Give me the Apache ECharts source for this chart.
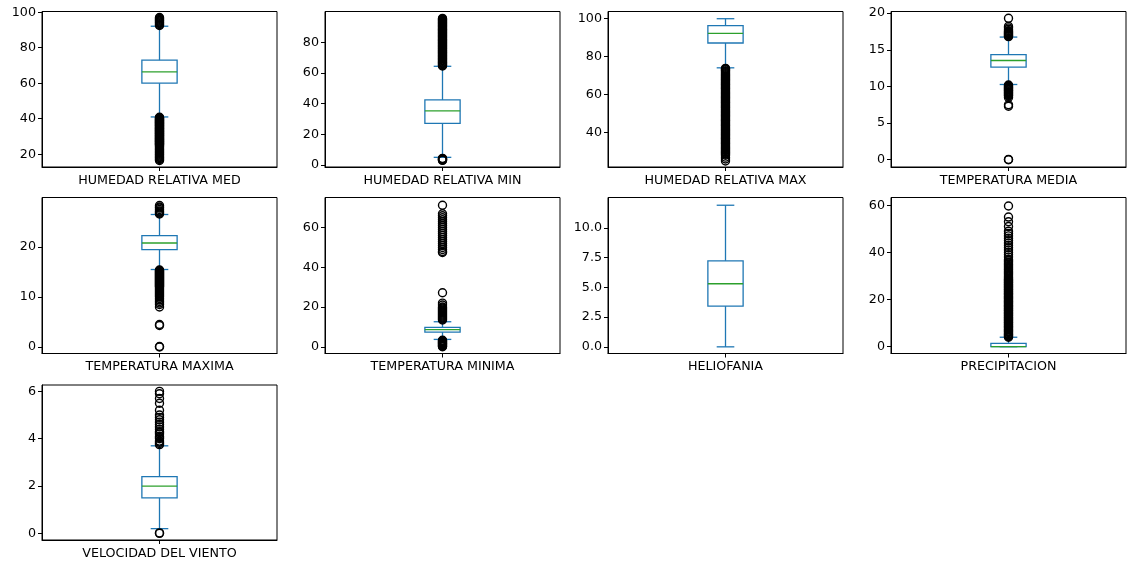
<!DOCTYPE html>
<html>
<head>
<meta charset="utf-8">
<script src="https://cdn.jsdelivr.net/npm/echarts@6/dist/echarts.min.js"></script>
<style>
html,body{margin:0;padding:0;background:#fff;}
#chart{width:1127px;height:565px;}
</style>
</head>
<body>
<div id="chart"></div>
<script>
// ---------- DATA ----------
const names = ["HUMEDAD RELATIVA MED", "HUMEDAD RELATIVA MIN", "HUMEDAD RELATIVA MAX", "TEMPERATURA MEDIA",
  "TEMPERATURA MAXIMA", "TEMPERATURA MINIMA", "HELIOFANIA", "PRECIPITACION", "VELOCIDAD DEL VIENTO"];
const lowWhisker  = [41.0, 5.0, 74.1, 10.27, 15.5, 3.7, 0.0, 0.0, 0.2];
const q1          = [60.0, 27.1, 87.2, 12.63, 19.47, 7.4, 3.42, 0.0, 1.5];
const median      = [66.4, 35.2, 92.3, 13.54, 20.8, 8.6, 5.3, 0.0, 2.0];
const q3          = [73.0, 42.4, 96.3, 14.35, 22.27, 9.8, 7.23, 1.4, 2.4];
const highWhisker = [92.1, 64.3, 100.0, 16.74, 26.5, 12.6, 11.9, 4.0, 3.7];

const outHRMed = [92.5, 93, 93.5, 94, 94.5, 95, 95.5, 96, 96.5, 97,
  40.8, 40.5, 40.2, 40, 39.7, 39.5, 39.2, 39, 38.7, 38.5, 38.2, 38, 37.7, 37.5, 37.2, 37, 36.7, 36.5,
  36.2, 36, 35.7, 35.5, 35.2, 35, 34.7, 34.5, 34.2, 34, 33.7, 33.5, 33.2, 33, 32.7, 32.5, 32.2, 32,
  31.7, 31.5, 31.2, 31, 30.7, 30.5, 30.2, 30, 29.7, 29.5, 29.2, 29, 28.7, 28.5, 28.2, 28, 27.7, 27.5,
  27.2, 27, 26.7, 26.5, 26.2, 26, 25.7, 25.5, 25.2, 25, 24.5, 24, 23.5, 23, 22.5, 22, 21.5, 21,
  20.5, 20, 19.5, 19, 18.5, 18, 17.5, 17, 16.5];
const outHRMin = [64.5, 65, 65.5, 66, 66.5, 67, 67.5, 68, 68.5, 69, 69.5, 70, 70.5, 71, 71.5, 72, 72.5,
  73, 73.5, 74, 74.5, 75, 75.5, 76, 76.5, 77, 77.5, 78, 78.5, 79, 79.5, 80, 80.5, 81, 81.5, 82, 82.5,
  83, 83.5, 84, 84.5, 85, 85.5, 86, 86.5, 87, 87.5, 88, 88.5, 89, 89.5, 90, 90.5, 91, 91.5, 92, 92.5,
  93, 93.5, 94, 94.5, 95, 95.5, 3, 3.3, 3.5, 3.8, 4, 4.3];
const outHRMax = [73.8, 73.5, 73, 72.5, 72, 71.5, 71, 70.5, 70, 69.5, 69, 68.5, 68, 67.5, 67, 66.5, 66,
  65.5, 65, 64.5, 64, 63.5, 63, 62.5, 62, 61.5, 61, 60.5, 60, 59.5, 59, 58.5, 58, 57.5, 57, 56.5, 56,
  55.5, 55, 54.5, 54, 53.5, 53, 52.5, 52, 51.5, 51, 50.5, 50, 49.5, 49, 48.5, 48, 47.5, 47, 46.5, 46,
  45.5, 45, 44.5, 44, 43.5, 43, 42.5, 42, 41.5, 41, 40.5, 40, 39.5, 39, 38.5, 38, 37.5, 37, 36.5, 36,
  35.5, 35, 34.5, 34, 33.5, 33, 32.5, 32, 31.5, 31, 30.5, 30, 29.5, 29, 28.5, 28, 27, 26, 25];
const outTMed = [16.8, 16.9, 17, 17.1, 17.2, 17.3, 17.4, 17.5, 17.6, 17.8, 18, 18.2, 19.3,
  10.2, 10.1, 10, 9.9, 9.8, 9.7, 9.6, 9.5, 9.4, 9.3, 9.2, 9.1, 9, 8.9, 8.8, 8.7, 8.5, 7.5, 7.3, 0, 0.05];
const outTMax = [26.6, 26.8, 27, 27.2, 27.5, 27.8, 28, 28.3,
  15.4, 15.3, 15.2, 15.1, 15, 14.9, 14.8, 14.7, 14.6, 14.5, 14.4, 14.3, 14.2, 14.1, 14, 13.9, 13.8,
  13.7, 13.6, 13.5, 13.4, 13.3, 13.2, 13.1, 13, 12.9, 12.8, 12.7, 12.6, 12.5, 12.4, 12.3, 12.2, 12.1,
  12, 11.8, 11.6, 11.4, 11.2, 11, 10.8, 10.6, 10.4, 10.2, 10, 9.7, 9.4, 9.1, 8.8, 8.5, 8, 4.5, 4.3,
  0, 0.1];
const outTMin = [13.5, 14, 14.5, 15, 15.5, 16, 16.5, 17, 17.5, 18, 18.5, 19, 19.5, 20, 21, 22, 27.2,
  47.5, 48, 49, 50, 51, 52, 53, 54, 55, 56, 57, 58, 59, 60, 61, 62, 63, 64, 65, 66, 67, 71.3,
  3.3, 3, 2.7, 2.4, 2.1, 1.8, 1.5, 1.2, 0.9, 0.6, 0.3, 0];
const outHelio = [];
const outPrecip = [4, 4.3, 4.6, 5, 5.3, 5.6, 6, 6.3, 6.6, 7, 7.3, 7.6, 8, 8.3, 8.6, 9, 9.3, 9.6, 10, 10.3,
  10.6, 11, 11.3, 11.6, 12, 12.3, 12.6, 13, 13.3, 13.6, 14, 14.3, 14.6, 15, 15.3, 15.6, 16, 16.3, 16.6,
  17, 17.3, 17.6, 18, 18.3, 18.6, 19, 19.3, 19.6, 20, 20.3, 20.6, 21, 21.3, 21.6, 22, 22.3, 22.6, 23,
  23.3, 23.6, 24, 24.3, 24.6, 25, 25.3, 25.6, 26, 26.3, 26.6, 27, 27.3, 27.6, 28, 28.3, 28.6, 29,
  29.5, 30, 30.5, 31, 31.5, 32, 32.5, 33, 33.5, 34, 34.5, 35, 35.5, 36, 36.5, 37, 38, 39, 40, 41, 42,
  43, 44, 45, 46, 47, 48, 49, 51, 53, 55, 59.7];
const outViento = [3.75, 3.8, 3.85, 3.9, 4.0, 4.05, 4.1, 4.2, 4.25, 4.3, 4.4, 4.5, 4.6, 4.7, 4.8, 4.9,
  5.0, 5.2, 5.5, 5.7, 5.9, 6.0, 0, 0.02];
const outliers = [outHRMed, outHRMin, outHRMax, outTMed, outTMax, outTMin, outHelio, outPrecip, outViento];

const yMin = [12.8, -1.3, 21.8, -0.99, -1.3, -3.4, -0.56, -2.9, -0.28];
const yMax = [100.4, 100.0, 103.8, 20.23, 29.9, 75.2, 12.55, 63.3, 6.27];
const yTicks = [[20, 40, 60, 80, 100], [0, 20, 40, 60, 80], [40, 60, 80, 100], [0, 5, 10, 15, 20],
  [0, 10, 20], [0, 20, 40, 60], [0, 2.5, 5, 7.5, 10], [0, 20, 40, 60], [0, 2, 4, 6]];
const yDecimals = [0, 0, 0, 0, 0, 0, 1, 0, 0];

// ---------- LAYOUT ----------
const colLeft = [42, 325, 608, 891];
const rowTop = [11.5, 197.5, 385];
const rowH = [155.5, 156, 155];
const gridW = 235;

const FONT = 'DejaVu Sans';
const BLUE = '#1f77b4', GREEN = '#2ca02c';

const grids = [], xAxes = [], yAxes = [], series = [];
names.forEach((name, i) => {
  const r = Math.floor(i / 4), c = i % 4;
  grids.push({ left: colLeft[c], top: rowTop[r], width: gridW, height: rowH[r],
    show: true, borderColor: '#000', borderWidth: 1, backgroundColor: 'transparent' });
  xAxes.push({ type: 'value', gridIndex: i, min: 0.5, max: 1.5,
    axisLine: { show: true, onZero: false, lineStyle: { color: '#000', width: 1 } },
    axisTick: { show: true, length: 4, customValues: [1], lineStyle: { color: '#000' } },
    axisLabel: { show: true, customValues: [1], formatter: () => name, margin: 7,
      fontFamily: FONT, fontSize: 12.7, color: '#000' },
    splitLine: { show: false } });
  yAxes.push({ type: 'value', gridIndex: i, min: yMin[i], max: yMax[i],
    axisLine: { show: true, onZero: false, lineStyle: { color: '#000', width: 1 } },
    axisTick: { show: true, length: 4, customValues: yTicks[i], lineStyle: { color: '#000' } },
    axisLabel: { show: true, customValues: yTicks[i], margin: 6,
      formatter: v => Number(v).toFixed(yDecimals[i]),
      fontFamily: FONT, fontSize: 12.7, color: '#000' },
    splitLine: { show: false } });
  series.push({
    type: 'custom', xAxisIndex: i, yAxisIndex: i, silent: true, z: 2,
    encode: { x: 0, y: [1, 2, 3, 4, 5] },
    data: [[1, lowWhisker[i], q1[i], median[i], q3[i], highWhisker[i]]],
    renderItem: function (params, api) {
      const x = api.value(0);
      const lo = api.value(1), a = api.value(2), m = api.value(3), b = api.value(4), hi = api.value(5);
      const bl = api.coord([x - 0.075, a]), tr = api.coord([x + 0.075, b]);
      const cx = api.coord([x, a])[0];
      const capL = api.coord([x - 0.0375, 0])[0], capR = api.coord([x + 0.0375, 0])[0];
      const yLo = api.coord([x, lo])[1], yHi = api.coord([x, hi])[1], yM = api.coord([x, m])[1];
      const st = { stroke: BLUE, lineWidth: 1.3, fill: null };
      return { type: 'group', children: [
        { type: 'line', shape: { x1: cx, y1: bl[1], x2: cx, y2: yLo }, style: st },
        { type: 'line', shape: { x1: cx, y1: tr[1], x2: cx, y2: yHi }, style: st },
        { type: 'line', shape: { x1: capL, y1: yLo, x2: capR, y2: yLo }, style: st },
        { type: 'line', shape: { x1: capL, y1: yHi, x2: capR, y2: yHi }, style: st },
        { type: 'rect', shape: { x: bl[0], y: tr[1], width: tr[0] - bl[0], height: bl[1] - tr[1] }, style: st },
        { type: 'line', shape: { x1: bl[0], y1: yM, x2: tr[0], y2: yM }, style: { stroke: GREEN, lineWidth: 1.3 } }
      ] };
    }
  });
  series.push({
    type: 'scatter', xAxisIndex: i, yAxisIndex: i, silent: true, z: 3,
    symbol: 'circle', symbolSize: 8,
    itemStyle: { color: 'rgba(0,0,0,0)', borderColor: '#000', borderWidth: 1.4, opacity: 1 },
    data: outliers[i].map(v => [1, v])
  });
});

const chart = echarts.init(document.getElementById('chart'), null, { renderer: 'canvas' });
chart.setOption({ animation: false, backgroundColor: '#fff',
  grid: grids, xAxis: xAxes, yAxis: yAxes, series: series });
</script>
</body>
</html>
